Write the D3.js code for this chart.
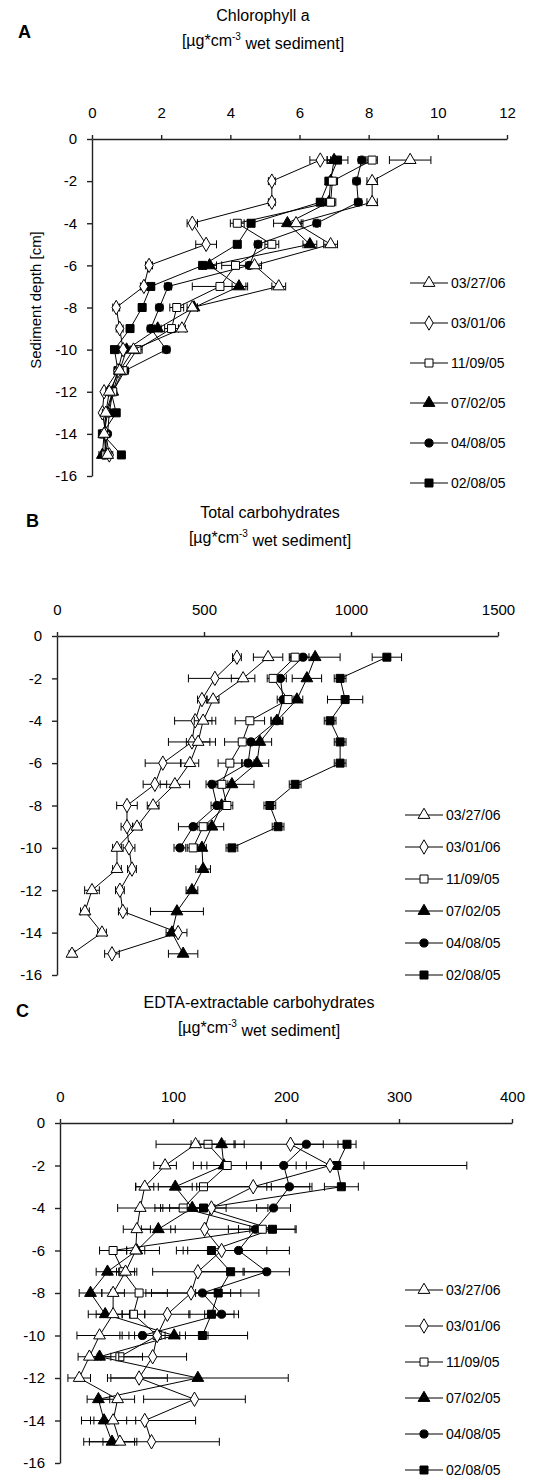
<!DOCTYPE html>
<html>
<head>
<meta charset="utf-8">
<script src="https://cdn.jsdelivr.net/npm/d3@7"></script>
<style>
  body { margin: 0; background: #fff; }
  svg { display: block; font-family: "Liberation Sans", Arial, sans-serif; }
</style>
</head>
<body>
<svg id="chart" width="533" height="1478"></svg>
<script>
// depths (cm) shared by all panels
const depths = [-1, -2, -3, -4, -5, -6, -7, -8, -9, -10, -11, -12, -13, -14, -15];
const yTicks = [0, -2, -4, -6, -8, -10, -12, -14, -16];
const seriesNames = ["03/27/06", "03/01/06", "11/09/05", "07/02/05", "04/08/05", "02/08/05"];

// A - chlorophyll a
const chlTri  = [9.2, 8.1, 8.1, 5.9, 6.9, 4.7, 5.4, 2.9, 2.6, 1.2, 0.8, 0.5, 0.4, 0.35, 0.45];
const chlDia  = [6.6, 5.2, 5.2, 2.9, 3.3, 1.65, 1.5, 0.7, 0.8, 0.9, 0.75, 0.35, 0.3, 0.4, 0.5];
const chlSq   = [8.1, 6.95, 6.9, 4.2, 5.2, 4.15, 3.7, 2.45, 2.3, 1.3, 0.9, 0.6, 0.4, 0.35, 0.4];
const chlFTri = [7.0, 6.9, 6.85, 5.65, 6.3, 3.4, 4.25, 2.95, 1.9, 1.0, 0.8, 0.6, 0.45, 0.35, 0.3];
const chlCirc = [7.8, 7.65, 7.7, 6.5, 4.8, 4.55, 2.2, 1.95, 1.7, 2.15, 0.95, 0.6, 0.5, 0.45, 0.35];
const chlFSq  = [7.1, 6.85, 6.6, 4.6, 4.2, 3.2, 1.7, 1.45, 1.1, 0.65, 0.75, 0.55, 0.7, 0.3, 0.85];
const chlTriE  = [0.6, 0.15, 0.15, 0.2, 0.2, 0.2, 0.2, 0.15, 0.1, 0.1, 0.1, 0.1, 0.1, 0.1, 0.1];
const chlDiaE  = [0.3, 0.1, 0.1, 0.15, 0.3, 0.1, 0.1, 0.1, 0.1, 0.1, 0.1, 0.05, 0.05, 0.05, 0.1];
const chlSqE   = [0.15, 0.15, 0.15, 0.2, 0.2, 0.4, 0.8, 0.2, 0.2, 0.15, 0.1, 0.1, 0.1, 0.1, 0.1];
const chlFTriE = [0.2, 0.1, 0.1, 0.4, 0.2, 0.2, 0.2, 0.1, 0.1, 0.1, 0.1, 0.1, 0.1, 0.1, 0.1];
const chlCircE = [0.1, 0.1, 0.1, 0.1, 0.1, 0.1, 0.1, 0.1, 0.1, 0.1, 0.1, 0.05, 0.05, 0.05, 0.05];
const chlFSqE  = [0.3, 0.1, 0.1, 0.1, 0.1, 0.1, 0.1, 0.1, 0.1, 0.1, 0.1, 0.05, 0.05, 0.05, 0.05];

// B - total carbohydrates
const tcTri  = [718, 633, 531, 497, 480, 452, 401, 327, 272, 204, 204, 119, 95, 153, 51];
const tcDia  = [612, 537, 493, 470, 459, 360, 333, 238, 238, 245, 255, 214, 224, 412, 187];
const tcSq   = [810, 735, 786, 656, 630, 588, 561, 578, 497, 463];
const tcFTri = [878, 850, 816, 748, 690, 680, 595, 560, 527, 493, 497, 459, 408, 391, 429];
const tcCirc = [837, 760, 769, 748, 660, 650, 527, 544, 463, 418];
const tcFSq  = [1122, 963, 980, 929, 963, 963, 810, 724, 752, 595];
const tcTriE  = [50, 40, 20, 30, 40, 30, 50, 20, 15, 15, 15, 25, 15, 15, 10];
const tcDiaE  = [15, 90, 15, 70, 80, 60, 40, 35, 20, 20, 15, 15, 15, 30, 25];
const tcSqE   = [20, 20, 20, 50, 60, 40, 20, 20, 20, 20];
const tcFTriE = [85, 50, 20, 20, 40, 40, 75, 20, 40, 15, 25, 20, 90, 20, 50];
const tcCircE = [20, 20, 20, 20, 40, 20, 20, 20, 50, 20];
const tcFSqE  = [50, 20, 60, 20, 20, 20, 20, 20, 20, 20];

// C - EDTA-extractable carbohydrates
const edTri  = [120, 93, 75, 71, 68, 67, 58, 47, 47, 35, 26, 17, 51, 47, 53];
const edDia  = [204, 239, 171, 134, 128, 143, 122, 116, 95, 86, 82, 70, 119, 75, 81];
const edSq   = [131, 148, 127, 109, 179, 47, 56, 70, 65, 86, 53];
const edFTri = [143, 145, 102, 117, 87, 68, 42, 27, 40, 101, 35, 122, 34, 39, 46];
const edCirc = [218, 198, 203, 189, 173, 158, 183, 126, 143, 73];
const edFSq  = [254, 245, 249, 127, 188, 134, 151, 140, 134, 126];
const edTriE  = [35, 10, 8, 20, 12, 8, 8, 10, 15, 20, 10, 10, 15, 20, 15];
const edDiaE  = [50, 30, 50, 50, 30, 40, 40, 35, 20, 25, 30, 25, 45, 45, 60];
const edSqE   = [15, 30, 60, 20, 30, 12, 12, 25, 10, 20, 20];
const edFTriE = [20, 20, 15, 20, 15, 20, 10, 10, 15, 30, 10, 80, 10, 20, 20];
const edCircE = [15, 20, 20, 15, 15, 45, 20, 50, 15, 20];
const edFSqE  = [8, 115, 15, 20, 20, 25, 30, 20, 20, 40];

const svg = d3.select("#chart");

const symbols = [
  { type: d3.symbolTriangle, fill: "#fff", size: 60 },
  { type: d3.symbolDiamond, fill: "#fff", size: 60 },
  { type: d3.symbolSquare, fill: "#fff", size: 64 },
  { type: d3.symbolTriangle, fill: "#000", size: 60 },
  { type: d3.symbolCircle, fill: "#000", size: 52 },
  { type: d3.symbolSquare, fill: "#000", size: 64 }
];

function drawPanel(p) {
  const x = d3.scaleLinear().domain(p.xDomain).range(p.xRange);
  const y = d3.scaleLinear().domain([0, -16]).range(p.yRange);
  const g = svg.append("g");

  // letter + title
  g.append("text").attr("x", p.letter[1]).attr("y", p.letter[2])
    .attr("font-size", 18).attr("font-weight", "bold").attr("dy", "0.35em").text(p.letter[0]);
  g.append("text").attr("x", p.titleX).attr("y", p.titleY).attr("text-anchor", "middle")
    .attr("font-size", 16).attr("dy", "0.35em").text(p.title);
  const t2 = g.append("text").attr("x", p.titleX).attr("y", p.titleY + 25).attr("text-anchor", "middle")
    .attr("font-size", 16).attr("dy", "0.35em");
  t2.append("tspan").text("[µg*cm");
  t2.append("tspan").attr("font-size", 10).attr("dy", "-0.6em").text("-3");
  t2.append("tspan").attr("dy", "0.6em").text(" wet sediment]");

  // axes
  const xa = g.append("g").attr("transform", `translate(0,${p.yRange[0]})`)
    .call(d3.axisTop(x).tickValues(p.xTicks).tickSize(4).tickSizeOuter(0).tickPadding(17).tickFormat(d => String(d)));
  const ya = g.append("g").attr("transform", `translate(${p.xRange[0]},0)`)
    .call(d3.axisLeft(y).tickValues(yTicks).tickSize(5).tickSizeOuter(0).tickPadding(10).tickFormat(d => String(d)));
  [xa, ya].forEach(a => {
    a.selectAll("text").attr("font-size", 15).attr("font-family", "Liberation Sans, Arial, sans-serif").attr("fill", "#000");
    a.selectAll("path,line").attr("stroke", "#222").attr("stroke-width", 1.4);
  });

  if (p.yLabel) {
    g.append("text").attr("transform", `translate(${p.yLabel[1]},${p.yLabel[2]}) rotate(-90)`)
      .attr("text-anchor", "middle").attr("font-size", 15).attr("dy", "0.35em").text(p.yLabel[0]);
  }

  // series (draw last series first so 03/27/06 stays on top)
  for (let s = p.values.length - 1; s >= 0; s--) {
    const pts = p.values[s].map((v, i) => ({ d: depths[i], v: v, e: p.errors[s][i] }));
    const sg = g.append("g");
    // error bars
    pts.forEach(pt => {
      if (!pt.e) return;
      const yy = y(pt.d), x0 = x(pt.v - pt.e), x1 = x(pt.v + pt.e);
      sg.append("line").attr("x1", x0).attr("x2", x1).attr("y1", yy).attr("y2", yy).attr("stroke", "#000");
      [x0, x1].forEach(xx => sg.append("line").attr("x1", xx).attr("x2", xx)
        .attr("y1", yy - 4).attr("y2", yy + 4).attr("stroke", "#000"));
    });
    sg.append("path").datum(pts)
      .attr("d", d3.line().x(d => x(d.v)).y(d => y(d.d)))
      .attr("fill", "none").attr("stroke", "#000").attr("stroke-width", 1);
    const sym = symbols[s];
    sg.selectAll(".m").data(pts).join("path")
      .attr("transform", d => `translate(${x(d.v)},${y(d.d)})`)
      .attr("d", d3.symbol().type(sym.type).size(sym.size))
      .attr("fill", sym.fill).attr("stroke", "#000").attr("stroke-width", 1);
  }

  // legend
  seriesNames.forEach((name, i) => {
    const ly = p.legY + i * p.legDy;
    const lg = g.append("g").attr("transform", `translate(${p.legX},${ly})`);
    lg.append("line").attr("x1", 0).attr("x2", 38).attr("stroke", "#000");
    lg.append("path").attr("transform", "translate(19,0)")
      .attr("d", d3.symbol().type(symbols[i].type).size(symbols[i].size))
      .attr("fill", symbols[i].fill).attr("stroke", "#000");
    lg.append("text").attr("x", 41).attr("dy", "0.35em").attr("font-size", 14).text(name);
  });
}

drawPanel({
  letter: ["A", 18, 32], title: "Chlorophyll a", titleX: 263, titleY: 15,
  xDomain: [0, 12], xRange: [92, 507], xTicks: [0, 2, 4, 6, 8, 10, 12], yRange: [139, 476],
  yLabel: ["Sediment depth [cm]", 36, 300],
  values: [chlTri, chlDia, chlSq, chlFTri, chlCirc, chlFSq],
  errors: [chlTriE, chlDiaE, chlSqE, chlFTriE, chlCircE, chlFSqE],
  legX: 410, legY: 283, legDy: 40
});

drawPanel({
  letter: ["B", 26, 521], title: "Total carbohydrates", titleX: 270, titleY: 512,
  xDomain: [0, 1500], xRange: [57, 498], xTicks: [0, 500, 1000, 1500], yRange: [636, 975],
  values: [tcTri, tcDia, tcSq, tcFTri, tcCirc, tcFSq],
  errors: [tcTriE, tcDiaE, tcSqE, tcFTriE, tcCircE, tcFSqE],
  legX: 405, legY: 815, legDy: 32
});

drawPanel({
  letter: ["C", 16, 1011], title: "EDTA-extractable carbohydrates", titleX: 259, titleY: 1002,
  xDomain: [0, 400], xRange: [60, 512], xTicks: [0, 100, 200, 300, 400], yRange: [1123, 1463],
  values: [edTri, edDia, edSq, edFTri, edCirc, edFSq],
  errors: [edTriE, edDiaE, edSqE, edFTriE, edCircE, edFSqE],
  legX: 405, legY: 1290, legDy: 36
});
</script>
</body>
</html>
